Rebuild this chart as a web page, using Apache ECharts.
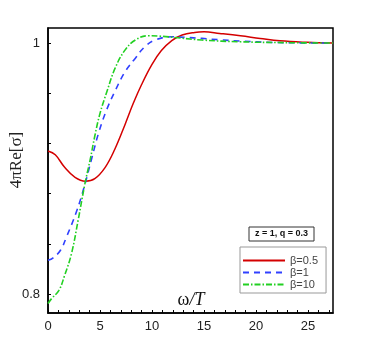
<!DOCTYPE html>
<html><head><meta charset="utf-8">
<script src="https://cdn.jsdelivr.net/npm/echarts@6/dist/echarts.min.js"></script>
<style>html,body{margin:0;padding:0;background:#fff}#c{width:382px;height:340px}</style>
</head><body><div id="c"></div>
<script>
var redX = [0, 0.7, 1.6, 2.6, 3.6, 4.5, 5.5, 6.4, 7.4, 8.2, 9.0, 10.0, 10.9, 11.9, 12.9, 14.1, 15.0, 16.5, 18.5, 20.4, 22.3, 24.9, 27.4];
var redY = [0.914, 0.911, 0.901, 0.893, 0.890, 0.892, 0.901, 0.915, 0.935, 0.952, 0.967, 0.983, 0.994, 1.002, 1.0064, 1.0085, 1.009, 1.0077, 1.0058, 1.0037, 1.0018, 1.0006, 1.0];
var blueX = [0, 0.5, 1.2, 1.8, 2.75, 3.5, 4.2, 4.85, 5.6, 6.4, 7.4, 8.4, 9.3, 10.3, 11.9, 13.2, 14.8, 16.5, 18.5, 21.6, 24, 27.4];
var blueY = [0.827, 0.829, 0.835, 0.846, 0.866, 0.886, 0.908, 0.928, 0.946, 0.961, 0.977, 0.988, 0.997, 1.0024, 1.005, 1.0045, 1.0037, 1.0026, 1.0016, 1.0005, 1.0002, 1.0];
var greenX = [0, 0.35, 1.05, 1.6, 2.25, 2.9, 3.55, 4.05, 4.5, 5.0, 5.65, 6.45, 7.4, 8.4, 9.6, 10.6, 12.5, 14.8, 18.5, 23.3, 27.4];
var greenY = [0.7926, 0.7965, 0.803, 0.815, 0.832, 0.859, 0.888, 0.907, 0.926, 0.944, 0.961, 0.980, 0.9944, 1.0024, 1.0058, 1.0056, 1.0042, 1.0024, 1.001, 1.0003, 1.0];
var seriesNames = ['β=0.5', 'β=1', 'β=10'];
var xTickLabels = [0, 5, 10, 15, 20, 25];
var xTicks = [0,1,2,3,4,5,6,7,8,9,10,11,12,13,14,15,16,17,18,19,20,21,22,23,24,25,26,27];
var yTickLabels = [0.8, 1];
var yTicks = [0.8, 0.84, 0.88, 0.92, 0.96, 1.0];

function pairs(xs, ys){ return xs.map(function(x,i){return [x, ys[i]];}); }

var chart = echarts.init(document.getElementById('c'), null, {renderer:'canvas'});
chart.setOption({
  animation:false,
  backgroundColor:'#fff',
  grid:{left:48, right:49, top:28, bottom:27, show:true, borderColor:'#000', borderWidth:1.5, backgroundColor:'transparent'},
  xAxis:{type:'value', min:0, max:27.4,
    axisLine:{show:true, lineStyle:{color:'#000', width:1.5}},
    axisTick:{show:true, inside:true, length:3, customValues:xTicks, lineStyle:{color:'#000'}},
    axisLabel:{customValues:xTickLabels, margin:7, fontFamily:'Liberation Sans', fontSize:13, color:'#222'},
    splitLine:{show:false}},
  yAxis:{type:'value', min:0.785, max:1.012,
    axisLine:{show:true, lineStyle:{color:'#000', width:1.5}},
    axisTick:{show:true, inside:true, length:3, customValues:yTicks, lineStyle:{color:'#000'}},
    axisLabel:{customValues:yTickLabels, margin:8, fontFamily:'Liberation Sans', fontSize:13, color:'#222',
      formatter:function(v){return Math.abs(v-1)<1e-9?'1':String(v);}},
    splitLine:{show:false}},
  legend:{orient:'vertical', left:240, top:247, itemWidth:42, itemHeight:10, itemGap:1,
    padding:[8,8,3,2], borderColor:'#999', borderWidth:1, backgroundColor:'#fff',
    itemStyle:{color:'transparent', borderWidth:0, opacity:0},
    textStyle:{fontFamily:'Liberation Sans', fontSize:11, color:'#444', lineHeight:10},
    data:seriesNames},
  series:[
    {name:seriesNames[0], type:'line', data:pairs(redX, redY), symbol:'none', smooth:0.4,
     lineStyle:{color:'#d40000', width:1.5}, itemStyle:{color:'#d40000'}},
    {name:seriesNames[1], type:'line', data:pairs(blueX, blueY), symbol:'none', smooth:0.4,
     lineStyle:{color:'#3040ff', width:1.6, type:[6,5]}, itemStyle:{color:'#3040ff'}},
    {name:seriesNames[2], type:'line', data:pairs(greenX, greenY), symbol:'none', smooth:0.4,
     lineStyle:{color:'#22d022', width:1.6, type:[6,2,1.5,2]}, itemStyle:{color:'#22d022'}}
  ],
  graphic:[
    {type:'text', x:17, y:160, rotation:Math.PI/2, style:{text:'4πRe[σ]', font:'17px "Liberation Serif"', fill:'#222', textAlign:'center', textVerticalAlign:'middle'}},
    {type:'text', x:191, y:300, style:{text:'{a|ω}{b|/T}', textAlign:'center', textVerticalAlign:'middle',
      rich:{a:{font:'18px "Liberation Serif"', fill:'#111'}, b:{font:'italic 18px "Liberation Serif"', fill:'#111'}}}},
    {type:'rect', shape:{x:249, y:227, width:65, height:14}, style:{fill:'#fff', stroke:'#333', lineWidth:1}},
    {type:'text', x:281.5, y:234, style:{text:'z = 1, q = 0.3', font:'bold 9px "Liberation Sans"', fill:'#111', textAlign:'center', textVerticalAlign:'middle'}}
  ]
});
</script></body></html>
